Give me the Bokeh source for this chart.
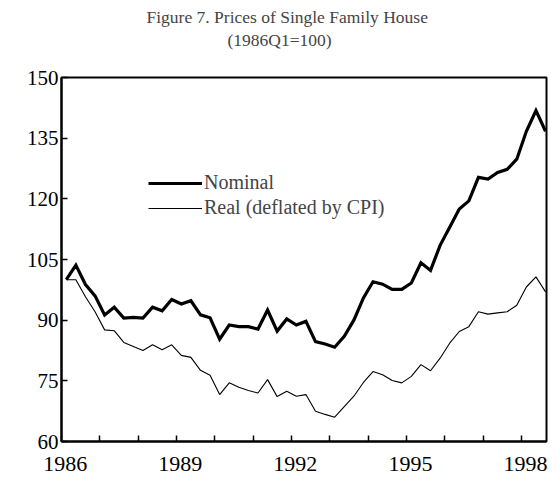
from bokeh.plotting import figure
from bokeh.models import Title, FixedTicker, Legend, LegendItem, Range1d, CustomJSTickFormatter
from bokeh.embed import file_html
from bokeh.resources import INLINE

# Quarterly index, 1986Q1 .. 1998Q3 (1986Q1 = 100)
years = [y for y in range(1986, 1999) for _ in range(4)][:51]
qtrs = [q for _ in range(1986, 1999) for q in (1, 2, 3, 4)][:51]

nominal = [100.0, 103.6, 98.8, 96.0, 91.3, 93.2, 90.5, 90.7, 90.5, 93.2,
           92.3, 95.1, 94.0, 94.8, 91.3, 90.6, 85.3, 88.8, 88.4, 88.4,
           87.8, 92.5, 87.3, 90.3, 88.8, 89.7, 84.7, 84.1, 83.3, 86.0,
           90.0, 95.5, 99.5, 98.9, 97.6, 97.6, 99.2, 104.2, 102.3, 108.5,
           113.0, 117.5, 119.5, 125.3, 124.9, 126.5, 127.3, 129.8, 136.7, 141.8,
           136.7]
real = [100.0, 100.0, 95.8, 92.1, 87.6, 87.4, 84.5, 83.5, 82.5, 83.9,
        82.7, 83.9, 81.3, 80.8, 77.6, 76.4, 71.6, 74.5, 73.4, 72.6,
        72.0, 75.3, 71.1, 72.4, 71.2, 71.6, 67.5, 66.7, 66.0, 68.6,
        71.2, 74.6, 77.3, 76.5, 75.1, 74.5, 76.1, 79.0, 77.5, 80.6,
        84.3, 87.2, 88.4, 92.1, 91.5, 91.8, 92.1, 93.7, 98.2, 100.7,
        97.0]

year_ticks = list(range(1986, 1999))
label_years = [1986, 1989, 1992, 1995, 1998]
y_ticks = [60, 75, 90, 105, 120, 135, 150]
title_text = "Figure 7. Prices of Single Family  House"
subtitle_text = "(1986Q1=100)"

# quarter midpoints on a year axis
xs = [y + (q - 1) / 4 + 0.125 for y, q in zip(years, qtrs)]

FONT = "Liberation Serif"
LABEL_SHIFT = 0.1  # year labels sit slightly right of their tick marks

p = figure(width=560, height=481, output_backend="svg", toolbar_location=None,
           x_range=Range1d(1986, 1998.65), y_range=Range1d(60, 150),
           min_border_left=61, min_border_right=14, min_border_top=77,
           min_border_bottom=40)
p.title.visible = False

# spacer between frame and subtitle
p.add_layout(Title(text=" ", text_font_size="1px", standoff=24), "above")
p.add_layout(Title(text=subtitle_text, align="left", offset=166, text_font=FONT,
                   text_font_size="17.5px", text_font_style="normal",
                   standoff=2), "above")
p.add_layout(Title(text=title_text, align="left", offset=85,
                   text_font=FONT, text_font_size="17.5px", text_font_style="normal",
                   standoff=0), "above")

p.grid.visible = False
p.outline_line_color = "black"
p.outline_line_width = 2
p.background_fill_color = "white"
p.border_fill_color = "white"

for ax in (p.xaxis[0], p.yaxis[0]):
    ax.axis_line_width = 2
    ax.major_tick_in = 6
    ax.major_tick_out = 0
    ax.minor_tick_in = 6
    ax.minor_tick_out = 0
    ax.major_tick_line_width = 1.5
    ax.minor_tick_line_width = 1.5
    ax.major_label_text_font = FONT
    ax.major_label_text_color = "black"

# x axis: tick marks at every year (minor), labels every third year
p.xaxis.ticker = FixedTicker(ticks=[y + LABEL_SHIFT for y in label_years],
                             minor_ticks=year_ticks)
p.xaxis.formatter = CustomJSTickFormatter(code="return String(Math.floor(tick));")
p.xaxis.major_tick_line_color = None
p.xaxis.minor_tick_line_color = "black"
p.xaxis.major_label_text_font_size = "22px"
p.xaxis.major_label_standoff = 15

p.yaxis.ticker = FixedTicker(ticks=y_ticks)
p.yaxis.minor_tick_line_color = None
p.yaxis.major_label_text_font_size = "21px"
p.yaxis.major_label_standoff = 3

r_nom = p.line(xs, nominal, line_color="black", line_width=3.2, line_join="miter")
r_real = p.line(xs, real, line_color="black", line_width=1.1)

legend = Legend(items=[LegendItem(label="Nominal", renderers=[r_nom]),
                       LegendItem(label="Real (deflated by CPI)", renderers=[r_real])],
                location=(87, 222), orientation="vertical",
                border_line_color=None, background_fill_alpha=0,
                padding=0, margin=0, spacing=2,
                glyph_width=54, glyph_height=22, label_height=22,
                label_standoff=2, label_text_font=FONT,
                label_text_font_size="20px")
p.add_layout(legend, "center")

open("out.html", "w").write(file_html(p, INLINE))
